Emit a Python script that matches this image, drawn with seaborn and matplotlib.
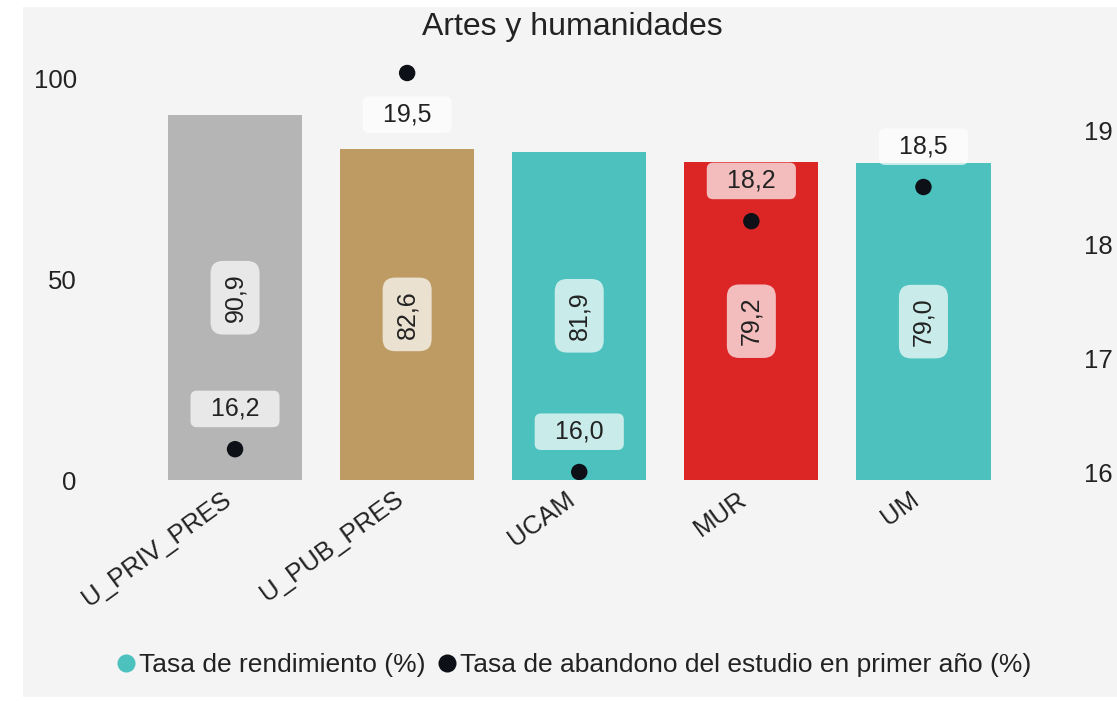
import pandas as pd
import seaborn as sns
import matplotlib.pyplot as plt
from matplotlib.patches import Rectangle
from matplotlib.lines import Line2D
from matplotlib.transforms import ScaledTranslation

# Data
categories = ['U_PRIV_PRES', 'U_PUB_PRES', 'UCAM', 'MUR', 'UM']
rendimiento = [90.9, 82.6, 81.9, 79.2, 79.0]
abandono = [16.2, 19.5, 16.0, 18.2, 18.5]
bar_colors = ['#b5b5b5', '#bd9b63', '#4cc1bd', '#dc2626', '#4cc1bd']

df = pd.DataFrame({'universidad': categories,
                   'rendimiento': rendimiento,
                   'abandono': abandono})

sns.set_theme(style='white')
plt.rcParams['font.family'] = ['Liberation Sans', 'DejaVu Sans']
text_color = '#222222'
dot_color = '#0d1117'
panel_color = '#f4f4f4'

fig = plt.figure(figsize=(11.17, 7.01), dpi=100)
fig.patch.set_facecolor('white')
fig.patches.append(Rectangle((23 / 1117, 4 / 701), 1 - 23 / 1117, 690 / 701,
                             transform=fig.transFigure, facecolor=panel_color,
                             edgecolor='none', zorder=-10))

ax = fig.add_axes([149 / 1117, 221 / 701, 860.5 / 1117, 420 / 701])
ax.set_facecolor('none')

sns.barplot(data=df, x='universidad', y='rendimiento', hue='universidad',
            palette=bar_colors, width=0.78, saturation=1, legend=False,
            linewidth=0, ax=ax)
ax.set_xlim(-0.5, 4.5)
ax.set_ylim(0, 420 / 4.01)
ax.set_yticks([0, 50, 100])
ax.set_xlabel('')
ax.set_ylabel('')
sns.despine(ax=ax, left=True, bottom=True)
ax.tick_params(axis='y', length=0, pad=52, labelsize=18.5, labelcolor=text_color)
ax.tick_params(axis='x', length=0, pad=5, labelsize=18.5, labelcolor=text_color)
shift = ScaledTranslation(-14 / 100, 0, fig.dpi_scale_trans)
for lbl in ax.get_xticklabels():
    lbl.set_rotation(36)
    lbl.set_ha('right')
    lbl.set_rotation_mode('anchor')
    lbl.set_transform(lbl.get_transform() + shift)

# bar value labels, rotated, at mid height
for i, v in enumerate(rendimiento):
    ax.text(i, v / 2, f'{v:.1f}'.replace('.', ','), rotation=90,
            ha='center', va='center', fontsize=18, color=text_color,
            bbox=dict(boxstyle='round,pad=0.5', facecolor='white',
                      alpha=0.7, edgecolor='none'))

# secondary axis for the dropout rate
ax2 = ax.twinx()
sns.scatterplot(data=df, x='universidad', y='abandono', color=dot_color,
                s=140, edgecolor='none', ax=ax2, zorder=5)
ax2.set_ylim(16 - 8 / 114, 16 + 412 / 114)
ax2.set_yticks([16, 17, 18, 19])
ax2.set_ylabel('')
ax2.set_xlabel('')
sns.despine(ax=ax2, left=True, bottom=True, right=True)
ax2.tick_params(axis='y', length=0, pad=54, labelsize=18.5, labelcolor=text_color)

top = ax2.get_ylim()[1]
for i, v in enumerate(abandono):
    dy = -30 if v > top - 0.4 else 29
    ax2.annotate(f'  {v:.1f}  '.replace('.', ','), (i, v),
                 textcoords='offset points', xytext=(0, dy),
                 ha='center', va='center', fontsize=18, color=text_color,
                 bbox=dict(boxstyle='round,pad=0.25', facecolor='white',
                           alpha=0.7, edgecolor='none'))

fig.text(0.512, 0.962, 'Artes y humanidades', ha='center', va='center',
         fontsize=23, color=text_color)

handles = [Line2D([], [], marker='o', linestyle='none', markersize=13,
                  markerfacecolor='#4cc1bd', markeredgecolor='none'),
           Line2D([], [], marker='o', linestyle='none', markersize=13,
                  markerfacecolor=dot_color, markeredgecolor='none')]
fig.legend(handles, ['Tasa de rendimiento (%)',
                     'Tasa de abandono del estudio en primer año (%)'],
           loc='center', bbox_to_anchor=(0.512, 0.051), ncol=2, frameon=False,
           fontsize=19, handletextpad=0.0, columnspacing=0.3,
           handlelength=1.0, labelcolor=text_color)

fig.savefig('out.png', dpi=100)
